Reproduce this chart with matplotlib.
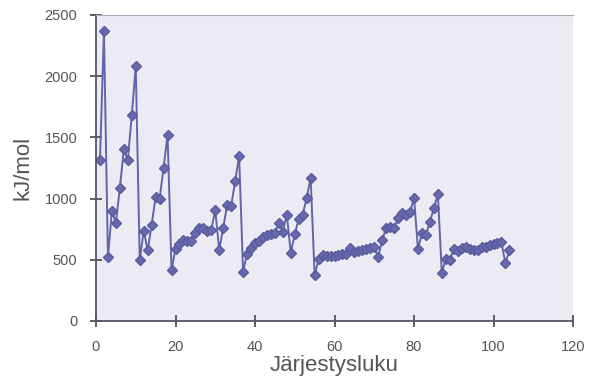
import matplotlib
matplotlib.use("Agg")
import matplotlib.pyplot as plt

plt.rcParams['font.family'] = ['Liberation Sans', 'DejaVu Sans']

# atomic number (Järjestysluku)
z = list(range(1, 105))
# first ionization energy, kJ/mol
energy = [1312, 2372, 520, 899, 801, 1086, 1402, 1314, 1681, 2081,
          496, 738, 578, 786, 1012, 1000, 1251, 1521, 419, 590,
          633, 659, 651, 653, 717, 762, 760, 737, 745, 906,
          579, 762, 947, 941, 1140, 1351, 403, 550, 600, 640,
          652, 684, 702, 710, 720, 804, 731, 868, 558, 709,
          834, 869, 1008, 1170, 376, 503, 538, 534, 527, 533,
          540, 545, 547, 593, 566, 573, 581, 589, 597, 603,
          524, 659, 761, 770, 760, 840, 880, 870, 890, 1007,
          589, 716, 703, 812, 920, 1037, 393, 509, 499, 587,
          568, 598, 605, 585, 578, 581, 601, 608, 619, 627,
          635, 642, 470, 580]

xticks = [0, 20, 40, 60, 80, 100, 120]
yticks = [0, 500, 1000, 1500, 2000, 2500]

fig = plt.figure(figsize=(5.93, 3.83), dpi=100)
fig.patch.set_facecolor('white')
ax = fig.add_axes([96/593, 1-321/383, (573-96)/593, (321-15)/383])
ax.set_facecolor('#ecebf4')

ax.plot(z, energy, color='#6464a8', lw=1.4, marker='D', ms=5.5,
        markerfacecolor='#6868ac', markeredgecolor='#5a5a9e')

ax.set_xlim(0, 120)
ax.set_ylim(0, 2500)
ax.set_xticks(xticks)
ax.set_yticks(yticks)
ax.tick_params(direction='inout', length=9, width=1.2, colors='#444444',
               labelsize=10.5, labelcolor='#555555')
ax.tick_params(axis='x', pad=9)
ax.tick_params(axis='y', pad=9)
for s in ['left', 'bottom']:
    ax.spines[s].set_color('#555566')
    ax.spines[s].set_linewidth(1.3)
ax.spines['top'].set_color('#aaaabb')
ax.spines['top'].set_linewidth(0.8)
ax.spines['right'].set_visible(False)

ax.set_ylabel('kJ/mol', fontsize=16, color='#555555', labelpad=8)
ax.set_xlabel('Järjestysluku', fontsize=16, color='#555555', labelpad=1)

fig.savefig('out.png', dpi=100)
